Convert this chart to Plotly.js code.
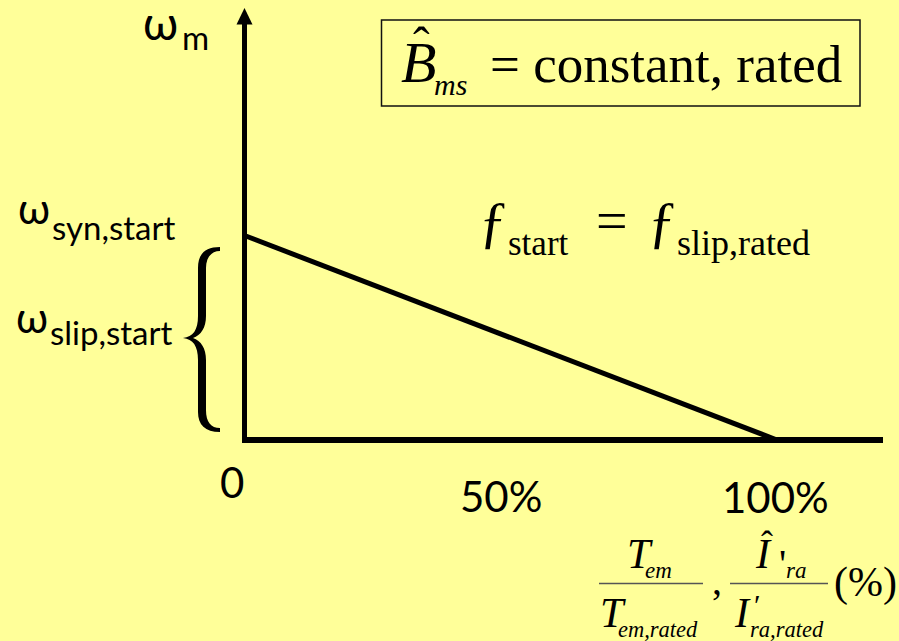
<!DOCTYPE html>
<html>
<head>
<meta charset="utf-8">
<script src="https://cdn.plot.ly/plotly-3.0.1.min.js"></script>
<style>
  html, body { margin: 0; padding: 0; background: #FFFF99; }
  #chart { width: 899px; height: 641px; }
</style>
</head>
<body>
<div id="chart"></div>
<script>
// Speed-torque line at constant rated flux: load in % of rated, speed in units of w_syn,start
const loadPct = [0, 100];
const speedPu = [1, 0];

// Horizontal axis labels
const tickVals = [0, 50, 100];
const tickText = ['0', '50%', '100%'];

// Plot frame
const W = 899, H = 641;
const mL = 240, mR = 16, mT = 5, mB = 196;
const plotW = W - mL - mR, plotH = H - mT - mB;

// Data scale: origin pixel and pixels per unit
const PX_PER_X = 5.325, X0_PX = 244.5;
const PX_PER_Y = 204.5, Y0_PX = 440;
const dataX = px => (px - X0_PX) / PX_PER_X;
const dataY = py => (Y0_PX - py) / PX_PER_Y;

// Paper-coordinate helpers for decorations and labels
const PXp = px => (px - mL) / plotW;
const PYp = py => (H - mB - py) / plotH;
const P = (px, py) => PXp(px).toFixed(5) + ',' + PYp(py).toFixed(5);

const SANS = 'Lato, "Open Sans", sans-serif';
const SERIF = '"Liberation Serif", "Times New Roman", serif';

function label(text, xPx, basePx, size, fam, anchor) {
  const k = fam === SERIF ? 0.3375 : 0.387;
  return {
    text: text, x: PXp(xPx), y: PYp(basePx - k * size), xref: 'paper', yref: 'paper',
    xanchor: anchor || 'center', yanchor: 'middle', showarrow: false,
    borderpad: 0, borderwidth: 0,
    font: { family: fam, size: size, color: '#000' }
  };
}

const annotations = [
  // vertical axis name
  label('ω', 160, 40, 46, SANS),
  label('m', 182, 50, 33, SANS, 'left'),
  // speed levels
  label('ω', 34, 224, 42, SANS),
  label('syn,start', 52, 240, 33, SANS, 'left'),
  label('ω', 31.5, 333, 42, SANS),
  label('slip,start', 50, 345, 33, SANS, 'left'),
  // boxed flux condition
  label('<i>B</i>', 418, 82, 58, SERIF),
  label('ˆ', 421, 62, 50, SERIF),
  label('<i>ms</i>', 434, 95, 30, SERIF, 'left'),
  label('= constant, rated', 490, 82, 53, SERIF, 'left'),
  // frequency condition
  label('ƒ', 493, 241, 58, SERIF),
  label('start', 508, 255, 35, SERIF, 'left'),
  label('=', 611.5, 240, 56, SERIF),
  label('ƒ', 662, 241, 58, SERIF),
  label('slip,rated', 677, 255, 36, SERIF, 'left'),
  // horizontal axis quantity: torque and current ratios
  label('<i>T</i>', 640, 568, 42, SERIF),
  label('<i>em</i>', 645, 578, 23, SERIF, 'left'),
  label('<i>T</i>', 612.5, 627, 42, SERIF),
  label('<i>em,rated</i>', 618, 637, 22.5, SERIF, 'left'),
  label(',', 717, 594, 40, SERIF),
  label('<i>I</i>', 763.5, 568, 42, SERIF),
  label('ˆ', 767, 556, 36, SERIF),
  label("'", 782, 577, 40, SERIF),
  label('<i>ra</i>', 786, 578, 23, SERIF, 'left'),
  label('<i>I</i>', 742.5, 627, 42, SERIF),
  label('′', 757, 615, 30, SERIF),
  label('<i>ra,rated</i>', 750, 637, 22.5, SERIF, 'left'),
  label('(%)', 834, 597, 42, SERIF, 'left')
];

// tick labels at their axis values, with a small nudge each
const tickNudge = [[-12.5, 498], [-9.75, 512], [-2, 513]];
tickVals.forEach((v, i) => {
  annotations.push(label(tickText[i], X0_PX + v * PX_PER_X + tickNudge[i][0], tickNudge[i][1], 42, SANS));
});

const bracePath = 'M' + P(220, 247) +
  ' C' + P(205, 247) + ' ' + P(198, 254) + ' ' + P(198, 268) +
  ' L' + P(198, 316) +
  ' C' + P(198, 330) + ' ' + P(193, 337) + ' ' + P(183, 338) +
  ' C' + P(193, 339) + ' ' + P(198, 346) + ' ' + P(198, 360) +
  ' L' + P(198, 412) +
  ' C' + P(198, 425) + ' ' + P(205, 432) + ' ' + P(220, 432) +
  ' L' + P(220, 428) +
  ' C' + P(211, 428) + ' ' + P(206, 422) + ' ' + P(206, 410) +
  ' L' + P(206, 360) +
  ' C' + P(206, 348) + ' ' + P(201, 341) + ' ' + P(193, 338) +
  ' C' + P(201, 335) + ' ' + P(206, 328) + ' ' + P(206, 316) +
  ' L' + P(206, 268) +
  ' C' + P(206, 258) + ' ' + P(211, 251) + ' ' + P(220, 251) + ' Z';

const arrowPath = 'M' + P(244.5, 8) + ' L' + P(252.5, 24.5) + ' L' + P(236.5, 24.5) + ' Z';

const shapes = [
  // vertical axis with arrow head
  { type: 'line', xref: 'paper', yref: 'paper', x0: PXp(244.5), x1: PXp(244.5), y0: PYp(442), y1: PYp(23), line: { color: '#000', width: 5 } },
  { type: 'path', xref: 'paper', yref: 'paper', path: arrowPath, fillcolor: '#000', line: { width: 0 } },
  // horizontal axis
  { type: 'line', xref: 'paper', yref: 'paper', x0: PXp(242), x1: PXp(883), y0: PYp(440), y1: PYp(440), line: { color: '#000', width: 6 } },
  // brace marking the slip speed
  { type: 'path', xref: 'paper', yref: 'paper', path: bracePath, fillcolor: '#000', line: { width: 0 } },
  // frame around the flux condition
  { type: 'rect', xref: 'paper', yref: 'paper', x0: PXp(381.5), x1: PXp(860), y0: PYp(106), y1: PYp(20), line: { color: '#111', width: 1.5 } },
  // fraction bars
  { type: 'line', xref: 'paper', yref: 'paper', x0: PXp(599), x1: PXp(703), y0: PYp(583.5), y1: PYp(583.5), line: { color: '#555', width: 1.5 } },
  { type: 'line', xref: 'paper', yref: 'paper', x0: PXp(730), x1: PXp(828), y0: PYp(583.5), y1: PYp(583.5), line: { color: '#555', width: 1.5 } }
];

const trace = {
  x: loadPct, y: speedPu, type: 'scatter', mode: 'lines',
  line: { color: '#000', width: 5 }, hoverinfo: 'skip', showlegend: false, cliponaxis: false
};

const layout = {
  width: W, height: H,
  margin: { l: mL, r: mR, t: mT, b: mB, pad: 0 },
  paper_bgcolor: '#FFFF99', plot_bgcolor: '#FFFF99',
  showlegend: false,
  xaxis: { visible: false, range: [dataX(mL), dataX(W - mR)], fixedrange: true },
  yaxis: { visible: false, range: [dataY(H - mB), dataY(mT)], fixedrange: true },
  shapes: shapes,
  annotations: annotations
};

Plotly.newPlot('chart', [trace], layout, { displayModeBar: false, staticPlot: true });
</script>
</body>
</html>
